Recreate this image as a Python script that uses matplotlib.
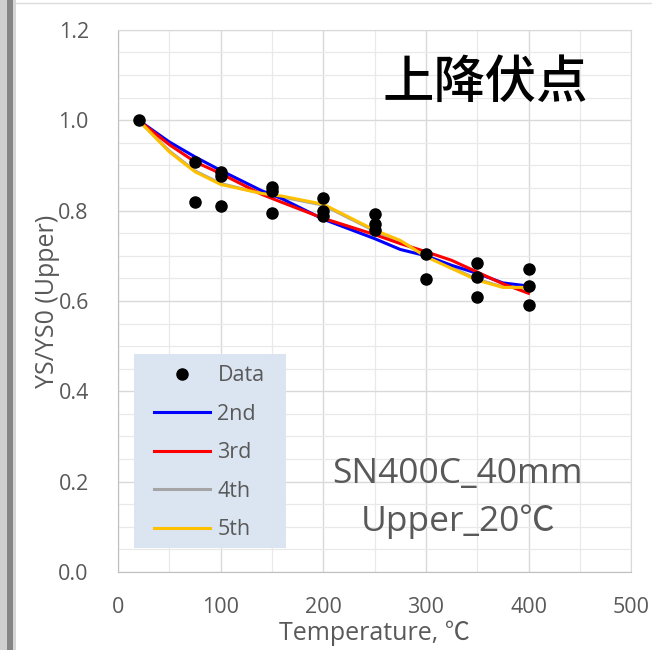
import matplotlib
matplotlib.use("Agg")
import matplotlib.pyplot as plt
from matplotlib.patches import Rectangle
from matplotlib.lines import Line2D

plt.rcParams["font.family"] = ["Open Sans", "Noto Sans CJK JP", "DejaVu Sans"]

# ── data ──────────────────────────────────────────────────────────────────────
temp_data = [20, 75, 75, 100, 100, 100, 150, 150, 150, 200, 200, 200,
             250, 250, 250, 300, 300, 350, 350, 350, 400, 400, 400]
ys_data = [1.00, 0.907, 0.818, 0.885, 0.877, 0.811, 0.852, 0.843, 0.795,
           0.827, 0.799, 0.787, 0.792, 0.771, 0.757, 0.705, 0.648,
           0.684, 0.653, 0.608, 0.670, 0.633, 0.591]

fit_temp = [20, 50, 75, 100, 140, 160, 200, 250, 275, 300, 325, 350, 375, 400]
fit_2nd = [1.000, 0.952, 0.919, 0.889, 0.844, 0.826, 0.781, 0.738, 0.714,
           0.700, 0.679, 0.661, 0.640, 0.633]
fit_3rd = [1.000, 0.946, 0.908, 0.882, 0.836, 0.818, 0.783, 0.747, 0.727,
           0.709, 0.690, 0.664, 0.638, 0.617]
fit_4th = [1.000, 0.932, 0.888, 0.860, 0.838, 0.830, 0.812, 0.755, 0.733,
           0.700, 0.674, 0.648, 0.631, 0.628]
fit_5th = [1.000, 0.930, 0.886, 0.858, 0.838, 0.832, 0.814, 0.757, 0.734,
           0.698, 0.672, 0.646, 0.630, 0.630]

x_ticks = [0, 100, 200, 300, 400, 500]
y_ticks = [0.0, 0.2, 0.4, 0.6, 0.8, 1.0, 1.2]

GREY_TXT = "#595959"

fig = plt.figure(figsize=(6.52, 6.50), dpi=100)
ax = fig.add_axes([0.181, 0.12, 0.787, 0.834])

# frame decoration on the left edge (screenshot look)
fig.patches.append(Rectangle((0, 0), 7 / 652, 1, transform=fig.transFigure,
                             facecolor="#cfcfcf", edgecolor="none"))
fig.patches.append(Rectangle((7 / 652, 0), 6 / 652, 1, transform=fig.transFigure,
                             facecolor="#858585", edgecolor="none"))
fig.patches.append(Rectangle((13 / 652, 0), 3 / 652, 1, transform=fig.transFigure,
                             facecolor="#d6d6d6", edgecolor="none"))
fig.lines.append(Line2D([16 / 652, 1], [1 - 3 / 650, 1 - 3 / 650],
                        transform=fig.transFigure, color="#dcdcdc", lw=1))

# ── curves & data ─────────────────────────────────────────────────────────────
ax.plot(fit_temp, fit_4th, color="#a5a5a5", lw=2.2, label="4th", zorder=3)
ax.plot(fit_temp, fit_2nd, color="#0000ff", lw=2.2, label="2nd", zorder=4)
ax.plot(fit_temp, fit_3rd, color="#ff0000", lw=2.2, label="3rd", zorder=5)
ax.plot(fit_temp, fit_5th, color="#ffc000", lw=2.2, label="5th", zorder=6)
ax.plot(temp_data, ys_data, "o", color="black", ms=8, label="Data", zorder=7)

# ── axes ──────────────────────────────────────────────────────────────────────
ax.set_xlim(0, 500)
ax.set_ylim(0, 1.2)
ax.set_xticks(x_ticks)
ax.set_yticks(y_ticks)
ax.set_xticks(range(50, 500, 100), minor=True)
ax.set_yticks([i * 0.05 for i in range(1, 24) if i % 4], minor=True)
ax.set_yticklabels([f"{v:.1f}" for v in y_ticks])
ax.grid(True, which="major", color="#d9d9d9", lw=1.0)
ax.grid(True, which="minor", color="#e9e9e9", lw=0.9)
ax.set_axisbelow(True)
ax.tick_params(which="both", length=0)
ax.tick_params(axis="y", labelsize=15.5, labelcolor=GREY_TXT, pad=21)
ax.tick_params(axis="x", labelsize=15.5, labelcolor=GREY_TXT, pad=18)
for s in ["top", "right"]:
    ax.spines[s].set_color("#d9d9d9")
for s in ["left", "bottom"]:
    ax.spines[s].set_color("#bfbfbf")

ax.set_xlabel("Temperature, ℃", fontsize=18, color=GREY_TXT, labelpad=2)
ax.set_ylabel("YS/YS0 (Upper)", fontsize=18, color=GREY_TXT, labelpad=-1)

ax.text(358, 1.082, "上降伏点", fontsize=37, color="black", weight="medium",
        family=["Noto Sans CJK JP"], ha="center", va="center")
ax.text(331, 0.217, "SN400C_40mm", fontsize=25.5, color=GREY_TXT,
        ha="center", va="center")
ax.text(331, 0.111, "Upper_20℃", fontsize=25.5, color=GREY_TXT,
        ha="center", va="center")

# legend: light-blue plate drawn separately, entries on top of it
ax.add_patch(Rectangle((0.031, 0.044), 0.296, 0.358, transform=ax.transAxes,
                       facecolor="#dbe5f1", edgecolor="none", zorder=8))
handles, labels = ax.get_legend_handles_labels()
order = ["Data", "2nd", "3rd", "4th", "5th"]
hmap = dict(zip(labels, handles))
leg = ax.legend([hmap[k] for k in order], order,
                loc="upper left", bbox_to_anchor=(0.070, 0.381),
                borderaxespad=0, borderpad=0, frameon=False,
                fontsize=15.5, labelcolor=GREY_TXT, numpoints=1,
                handlelength=2.6, handletextpad=0.35, labelspacing=0.81)
leg.set_zorder(9)

fig.savefig("out.png", dpi=100)
